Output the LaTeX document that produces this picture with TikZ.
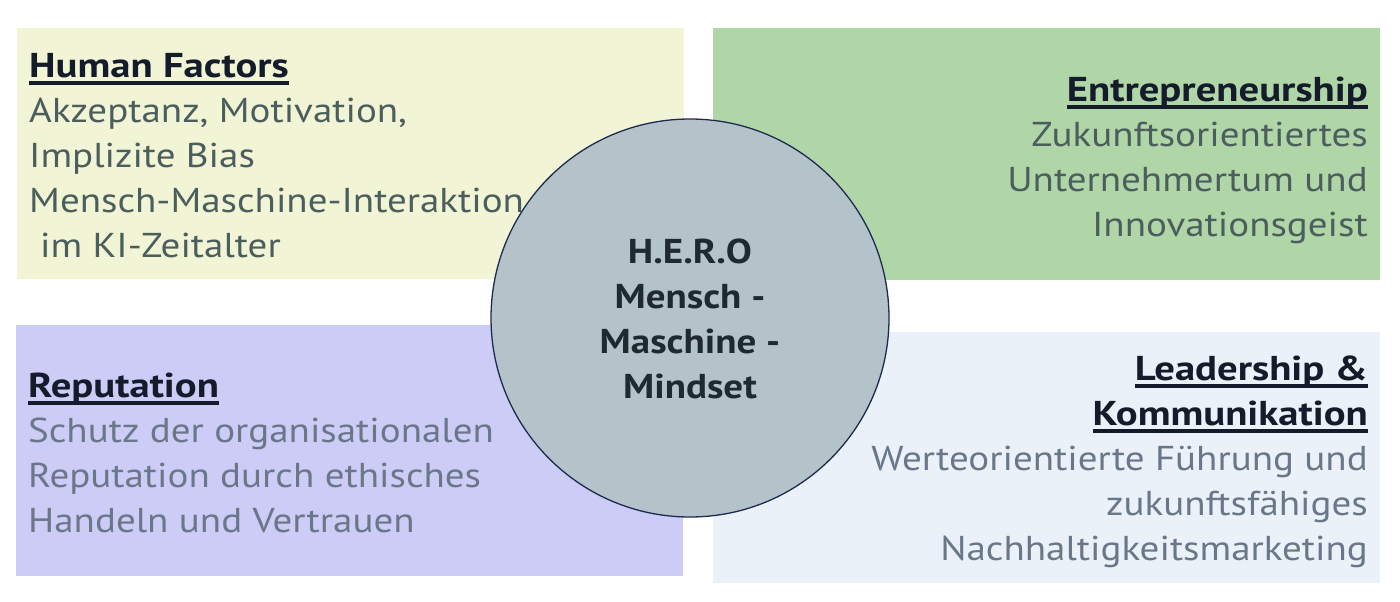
\documentclass[tikz,border=0pt]{standalone}
\usepackage{fontspec}
\setmainfont[FakeStretch=1.13]{PT Sans}
\newfontfamily\headfont[FakeStretch=1.18]{PT Sans}
\usetikzlibrary{positioning}

\definecolor{hfcol}{HTML}{F1F5D5}
\definecolor{entcol}{HTML}{B0D6A8}
\definecolor{repcol}{HTML}{CCCCF6}
\definecolor{leadcol}{HTML}{EAF1F9}
\definecolor{herocol}{HTML}{B4C3CA}
\definecolor{heroedge}{HTML}{1F2A50}
\definecolor{headc}{HTML}{141B2A}
\definecolor{bodyA}{HTML}{4C5D5E}
\definecolor{bodyB}{HTML}{6A7789}
\definecolor{heroc}{HTML}{1E2A30}

% underlined heading
\newcommand{\headul}[1]{{\headfont\bfseries\color{headc}%
  \setbox0=\hbox{#1}\rlap{\rule[-7.5pt]{\wd0}{3.2pt}}\box0}}

\begin{document}
\begin{tikzpicture}[x=1pt,y=-1pt,
    quad/.style={inner sep=0pt, minimum width=667pt, minimum height=251pt},
    txt/.style={inner sep=0pt, font=\fontsize{34.5}{45}\selectfont},
    head/.style={text=headc, font=\fontsize{34.5}{45}\selectfont\bfseries}]
  \useasboundingbox (0,0) rectangle (1400,602);

  % the four fields
  \node[quad, fill=hfcol] (hfbox) at (350.5,153.5) {};
  \node[quad, fill=entcol] (entbox) at (1046.5,154) {};
  \node[quad, fill=repcol] (repbox) at (349,450) {};
  \node[quad, fill=leadcol] (leadbox) at (1046,457) {};

  % texts (anchored at the baseline of the last line)
  \node[txt, anchor=base west, align=left, text=bodyA] (hf) at (29,257)
    {\headul{Human Factors}\\
     Akzeptanz, Motivation,\\
     Implizite Bias\\
     Mensch-Maschine-Interaktion\\
     \hspace{11pt}im KI-Zeitalter};
  \node[txt, anchor=base east, align=right, text=bodyA] (ent) at (1368,236)
    {\headul{Entrepreneurship}\\
     Zukunftsorientiertes\\
     Unternehmertum und\\
     Innovationsgeist};
  \node[txt, anchor=base west, align=left, text=bodyB] (rep) at (28,532)
    {\headul{Reputation}\\
     Schutz der organisationalen\\
     Reputation durch ethisches\\
     Handeln und Vertrauen};
  \node[txt, anchor=base east, align=right, text=bodyB] (lead) at (1368,560)
    {\headul{Leadership \&}\\
     \headul{Kommunikation}\\
     Werteorientierte Führung und\\
     zukunftsfähiges\\
     Nachhaltigkeitsmarketing};

  % centre
  \node[circle, draw=heroedge, line width=1.3pt, fill=herocol, minimum size=398pt,
    inner sep=0pt] (hero) at (690,318) {};
  \node[head, text=heroc, align=center, inner sep=0pt, anchor=base] (herotxt) at (690,398)
    {H.E.R.O\\Mensch -\\Maschine -\\Mindset};
\end{tikzpicture}
\end{document}
